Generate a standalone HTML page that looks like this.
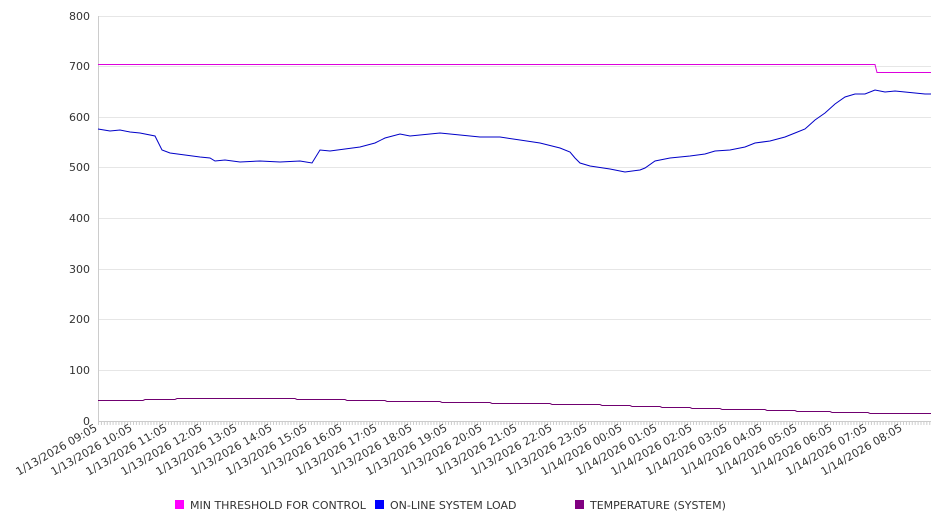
<!DOCTYPE html>
<html><head><meta charset="utf-8"><style>
body{margin:0;background:#fff;font-family:"DejaVu Sans","Liberation Sans",sans-serif;}
svg text{font-family:"DejaVu Sans","Liberation Sans",sans-serif;fill:#333;}
</style></head><body>
<svg width="946" height="526" xmlns="http://www.w3.org/2000/svg">
<g stroke="#e6e6e6" stroke-width="1">
<line x1="98" x2="931" y1="16.5" y2="16.5"/><line x1="98" x2="931" y1="66.5" y2="66.5"/>
<line x1="98" x2="931" y1="117.5" y2="117.5"/><line x1="98" x2="931" y1="167.5" y2="167.5"/>
<line x1="98" x2="931" y1="218.5" y2="218.5"/><line x1="98" x2="931" y1="269.5" y2="269.5"/>
<line x1="98" x2="931" y1="319.5" y2="319.5"/><line x1="98" x2="931" y1="370.5" y2="370.5"/>
</g>
<line x1="98.5" x2="98.5" y1="16" y2="421" stroke="#ccc"/>
<line x1="98" x2="931" y1="421.5" y2="421.5" stroke="#ccc"/>
<g id="ticks" stroke="#ccc"></g>
<g font-size="11" text-anchor="end">
<text x="90" y="20">800</text><text x="90" y="70">700</text><text x="90" y="121">600</text>
<text x="90" y="171">500</text><text x="90" y="222">400</text><text x="90" y="273">300</text>
<text x="90" y="323">200</text><text x="90" y="374">100</text><text x="90" y="425">0</text>
</g>
<g id="xl" font-size="11" text-anchor="end"></g>
<polyline fill="none" stroke="#dd00dd" stroke-width="1" points="98,64.5 875,64.5 877,72.5 931,72.5"/>
<polyline fill="none" stroke="#0000c8" stroke-width="1" points="98,129 110,131 120,130 130,132 140,133 155,136 162,150 170,153 185,155 200,157 210,158 215,161 225,160 240,162 260,161 280,162 300,161 312,163 320,150 330,151 345,149 360,147 375,143 385,138 400,134 410,136 430,134 440,133 460,135 480,137 500,137 520,140 540,143 560,148 570,152 575,158 580,163 590,166 610,169 625,172 640,170 645,168 655,161 670,158 690,156 705,154 715,151 730,150 745,147 755,143 770,141 785,137 795,133 805,129 815,120 825,113 835,104 845,97 855,94 865,94 875,90 885,92 895,91 905,92 915,93 925,94 931,94"/>
<polyline fill="none" stroke="#700070" stroke-width="1" points="98,400.5 143,400.5 145,399.5 175,399.5 177,398.5 295,398.5 297,399.5 345,399.5 347,400.5 385,400.5 387,401.5 440,401.5 442,402.5 490,402.5 492,403.5 550,403.5 552,404.5 600,404.5 602,405.5 630,405.5 632,406.5 660,406.5 662,407.5 690,407.5 692,408.5 720,408.5 722,409.5 765,409.5 767,410.5 795,410.5 797,411.5 830,411.5 832,412.5 868,412.5 870,413.5 931,413.5"/>
<g font-size="11">
<rect x="175" y="500" width="9" height="9" fill="#ff00ff"/><text x="190" y="509">MIN THRESHOLD FOR CONTROL</text>
<rect x="375" y="500" width="9" height="9" fill="#0000ff"/><text x="390" y="509">ON-LINE SYSTEM LOAD</text>
<rect x="575" y="500" width="9" height="9" fill="#800080"/><text x="590" y="509">TEMPERATURE (SYSTEM)</text>
</g>
</svg>
<script>
var t=document.getElementById('ticks'),s='';
for(var x=98;x<=931;x+=35/12){s+='<line x1="'+(x+0.5)+'" x2="'+(x+0.5)+'" y1="421" y2="425"/>';}
t.innerHTML=s;
var l=document.getElementById('xl'),h='';
for(var i=0;i<24;i++){var hr=(9+i)%24,d=(9+i)>=24?14:13;var x=98+i*35,y=430;
h+='<text transform="translate('+x+','+y+') rotate(-30)">1/'+d+'/2026 '+(hr<10?'0':'')+hr+':05</text>';}
l.innerHTML=h;
</script>
</body></html>
